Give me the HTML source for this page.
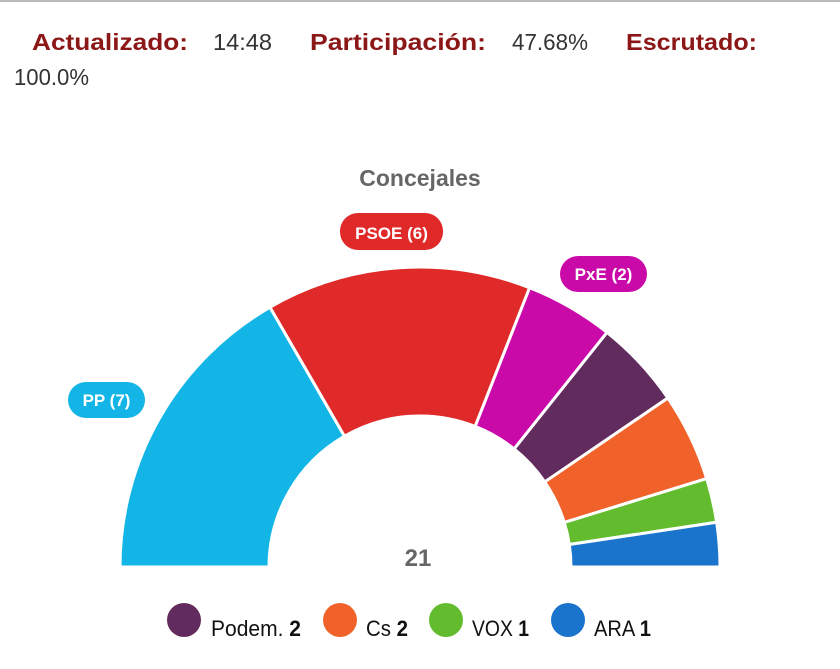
<!DOCTYPE html>
<html><head><meta charset="utf-8"><style>
html,body{margin:0;padding:0;background:#fff;}
body{width:840px;height:669px;position:relative;overflow:hidden;font-family:"Liberation Sans",sans-serif;}
.top{position:absolute;left:0;top:0;width:840px;height:2px;background:#bbb;}
</style></head><body>
<div class="top"></div>
<svg id="s" width="840" height="669" style="position:absolute;left:0;top:0" xmlns="http://www.w3.org/2000/svg">
<g font-family="Liberation Sans,sans-serif" font-size="23">
<text x="32" y="50" textLength="156" lengthAdjust="spacingAndGlyphs" fill="#8b1717" font-weight="bold">Actualizado:</text>
<text x="213" y="50" textLength="59" lengthAdjust="spacingAndGlyphs" fill="#333">14:48</text>
<text x="310" y="50" textLength="176" lengthAdjust="spacingAndGlyphs" fill="#8b1717" font-weight="bold">Participación:</text>
<text x="512" y="50" textLength="76" lengthAdjust="spacingAndGlyphs" fill="#333">47.68%</text>
<text x="626" y="50" textLength="131" lengthAdjust="spacingAndGlyphs" fill="#8b1717" font-weight="bold">Escrutado:</text>
<text x="14" y="85" textLength="75" lengthAdjust="spacingAndGlyphs" fill="#333">100.0%</text>
</g>
<g id="arcs"></g>
<text x="420" y="186" text-anchor="middle" font-family="Liberation Sans,sans-serif" font-weight="bold" font-size="23" fill="#666">Concejales</text>
<rect x="340" y="213" width="103" height="37" rx="18" fill="#e02a2a"/>
<text x="391.5" y="239" text-anchor="middle" font-family="Liberation Sans,sans-serif" font-weight="bold" font-size="17" fill="#fff">PSOE (6)</text>
<rect x="560" y="256" width="87" height="36" rx="18" fill="#c90aa9"/>
<text x="603.5" y="280" text-anchor="middle" font-family="Liberation Sans,sans-serif" font-weight="bold" font-size="17" fill="#fff">PxE (2)</text>
<rect x="68" y="382" width="77" height="36" rx="18" fill="#12b5e5"/>
<text x="106.5" y="406" text-anchor="middle" font-family="Liberation Sans,sans-serif" font-weight="bold" font-size="17" fill="#fff">PP (7)</text>
<text x="418" y="566" text-anchor="middle" font-family="Liberation Sans,sans-serif" font-weight="bold" font-size="24" fill="#666">21</text>
<g font-family="Liberation Sans,sans-serif" font-size="22" fill="#111">
<circle cx="184" cy="620" r="17" fill="#622b5e"/><text x="211" y="636" textLength="90" lengthAdjust="spacingAndGlyphs">Podem. <tspan font-weight="bold">2</tspan></text>
<circle cx="340" cy="620" r="17" fill="#f0622a"/><text x="366" y="636" textLength="42" lengthAdjust="spacingAndGlyphs">Cs <tspan font-weight="bold">2</tspan></text>
<circle cx="446" cy="620" r="17" fill="#62bc2d"/><text x="472" y="636" textLength="57" lengthAdjust="spacingAndGlyphs">VOX <tspan font-weight="bold">1</tspan></text>
<circle cx="568" cy="620" r="17" fill="#1a74cc"/><text x="594" y="636" textLength="57" lengthAdjust="spacingAndGlyphs">ARA <tspan font-weight="bold">1</tspan></text>
</g>
</svg>
<script>
var d=[[7,"#12b5e5"],[6,"#e02a2a"],[2,"#c90aa9"],[2,"#622b5e"],[2,"#f0622a"],[1,"#62bc2d"],[1,"#1a74cc"]];
var cx=420,cy=567,R=300,r=151,a=0,g=document.getElementById("arcs"),h="";
function p(rad,ang){return [cx-rad*Math.cos(ang),cy-rad*Math.sin(ang)];}
d.forEach(function(e){var a2=a+e[0]/21*Math.PI;
var o1=p(R,a),o2=p(R,a2),i2=p(r,a2),i1=p(r,a);
h+='<path d="M'+o1+' A'+R+' '+R+' 0 0 1 '+o2+' L'+i2+' A'+r+' '+r+' 0 0 0 '+i1+' Z" fill="'+e[1]+'" stroke="#fff" stroke-width="3" stroke-linejoin="round"/>';
a=a2;});
g.innerHTML=h;
</script>
</body></html>
